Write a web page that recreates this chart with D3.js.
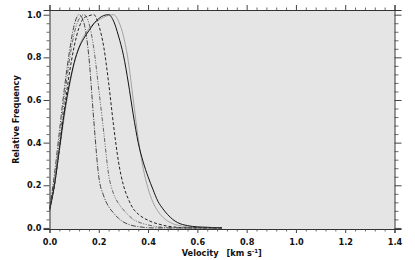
<!DOCTYPE html>
<html>
<head>
<meta charset="utf-8">
<script src="https://cdn.jsdelivr.net/npm/d3@7"></script>
<style>
body{margin:0;background:#fff;}
text{font-family:"DejaVu Sans",sans-serif;font-weight:bold;fill:#111;}
</style>
</head>
<body>
<svg id="svg0" width="415" height="260"></svg>
<script>
// velocity grid, km/s
var vel=[0,0.02,0.04,0.06,0.08,0.10,0.12,0.14,0.16,0.18,0.20,0.22,0.24,0.26,0.28,0.30,0.32,0.34,
         0.36,0.38,0.40,0.42,0.44,0.46,0.48,0.50,0.52,0.54,0.56,0.58,0.60,0.62,0.64,0.66,0.68,0.70];
// relative frequency, one array per curve
var serA=[0.09,0.25,0.45,0.65,0.82,0.95,1.0,0.96,0.8,0.5,0.24,0.15,0.10,0.07,0.045,0.028,0.017,0.01,
          0.006,0.003,0.001,0,0,0,0,0,0,0,0,0,0,0,0,0,0,0];
var serB=[0.09,0.22,0.4,0.6,0.78,0.91,0.98,1.0,0.96,0.84,0.65,0.45,0.25,0.16,0.115,0.085,0.06,0.04,
          0.028,0.02,0.014,0.009,0.005,0.003,0.001,0,0,0,0,0,0,0,0,0,0,0];
var serC=[0.09,0.2,0.37,0.55,0.72,0.85,0.94,0.985,0.995,1.0,0.95,0.85,0.68,0.48,0.31,0.2,0.135,0.09,
          0.065,0.048,0.036,0.026,0.019,0.013,0.008,0.005,0.003,0.001,0,0,0,0,0,0,0,0];
var serD=[0.08,0.2,0.37,0.54,0.67,0.775,0.845,0.89,0.925,0.958,0.982,0.996,1.0,0.97,0.9,0.81,0.68,0.53,
          0.40,0.31,0.24,0.18,0.125,0.09,0.062,0.04,0.025,0.016,0.011,0.007,0.005,0.004,0.003,0.002,0.001,0];
var serE=[0.08,0.2,0.36,0.52,0.66,0.77,0.85,0.9,0.935,0.96,0.975,0.988,0.997,1.0,0.97,0.9,0.78,0.6,
          0.42,0.28,0.185,0.12,0.078,0.05,0.032,0.02,0.013,0.008,0.005,0.003,0.002,0.001,0,0,0,0];
var xTicks=[0,0.2,0.4,0.6,0.8,1.0,1.2,1.4];
var yTicks=[0,0.2,0.4,0.6,0.8,1.0];

var svg=d3.select("#svg0");
var x=d3.scaleLinear().domain([0,1.4]).range([49.5,394.5]);
var y=d3.scaleLinear().domain([-0.005,1.022]).range([229,10]);

svg.append("defs").append("clipPath").attr("id","clp")
  .append("rect").attr("x",x(0)).attr("y",y(1.022)).attr("width",x(1.4)-x(0)).attr("height",y(-0.005)-y(1.022));

svg.append("rect").attr("x",x(0)).attr("y",y(1.022))
  .attr("width",x(1.4)-x(0)).attr("height",y(-0.005)-y(1.022))
  .style("fill","#e5e5e5");

var series=[
  {v:serE,col:"#9a9a9a",w:0.9,dash:"none"},
  {v:serD,col:"#111",w:1,dash:"none"},
  {v:serC,col:"#222",w:1,dash:"3,2"},
  {v:serB,col:"#555",w:0.9,dash:"4,1.5,1,1.5,1,1.5"},
  {v:serA,col:"#333",w:0.9,dash:"5,1.5,1,1.5"}
];
var line=d3.line().x(function(d){return x(d[0]);}).y(function(d){return y(d[1]);}).curve(d3.curveMonotoneX);
var gl=svg.append("g").attr("clip-path","url(#clp)");
series.forEach(function(s){
  gl.append("path").datum(d3.zip(vel,s.v)).attr("d",line)
    .style("fill","none").style("stroke",s.col).style("stroke-width",s.w)
    .style("stroke-dasharray",s.dash);
});

// axes: labels on the majors, 4 minor ticks in between
var minorX=d3.range(0,1.4001,0.04);
var minorY=d3.range(0,1.0001,0.04);
function isMajor(v){return Math.abs(v*5-Math.round(v*5))<1e-6;}
var fmt=d3.format(".1f");

var botAx=d3.axisBottom(x).tickValues(minorX).tickSize(4).tickFormat(function(d){return isMajor(d)?fmt(d):"";});
var topAx=d3.axisTop(x).tickValues(minorX).tickSize(5).tickFormat("");
var lftAx=d3.axisLeft(y).tickValues(minorY).tickSize(6).tickFormat(function(d){return isMajor(d)?fmt(d):"";});
var rgtAx=d3.axisRight(y).tickValues(minorY).tickSize(7).tickFormat("");

var gb=svg.append("g").attr("transform","translate(0,229)").call(botAx);
var gt=svg.append("g").attr("transform","translate(0,10)").call(topAx);
var gle=svg.append("g").attr("transform","translate(49.5,0)").call(lftAx);
var gr=svg.append("g").attr("transform","translate(394.5,0)").call(rgtAx);

[gb,gt,gle,gr].forEach(function(g){
  g.select(".domain").style("stroke","#333").attr("stroke-width",1);
  g.selectAll(".tick line").style("stroke","#444")
    .attr("stroke-width",function(d){return isMajor(d)?1:0.8;});
  g.selectAll("text").style("font-size","8.2px").style("font-family","DejaVu Sans").style("font-weight","bold").attr("fill","#111");
});
// minor ticks shorter
gb.selectAll(".tick line").attr("y2",function(d){return isMajor(d)?4:2.5;});
gt.selectAll(".tick line").attr("y2",function(d){return isMajor(d)?-5:-2.5;});
gle.selectAll(".tick line").attr("x2",function(d){return isMajor(d)?-6:-3;});
gr.selectAll(".tick line").attr("x2",function(d){return isMajor(d)?7:4;});
gb.selectAll("text").attr("y",10);
gle.selectAll("text").attr("x",-8);

svg.append("text").attr("x",218.5).attr("y",256).attr("text-anchor","end")
  .style("font-size","8.2px").text("Velocity");
svg.append("text").attr("x",226.5).attr("y",256).attr("text-anchor","start")
  .style("font-size","8.2px")
  .html('[km s<tspan dy="-3.5" font-size="5.5px">-1</tspan><tspan dy="3.5">]</tspan>');
svg.append("text").attr("transform","translate(19,119.5) rotate(-90)").attr("text-anchor","middle")
  .style("font-size","8.2px").text("Relative Frequency");
</script>
</body>
</html>
